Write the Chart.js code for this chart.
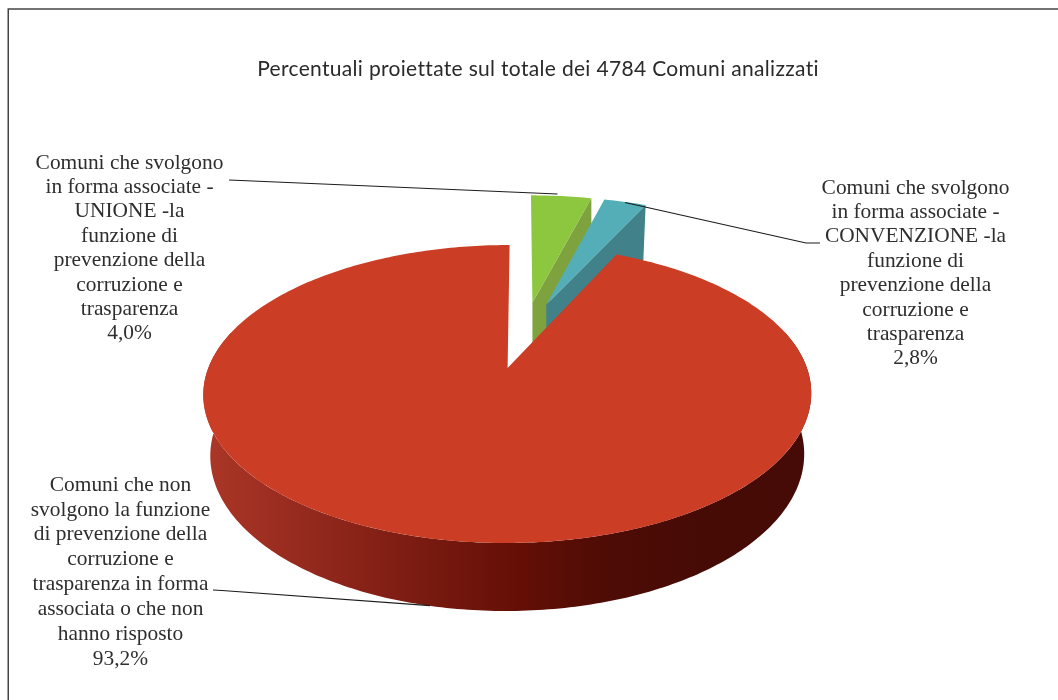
<!DOCTYPE html>
<html><head><meta charset="utf-8">
<style>html,body{margin:0;padding:0;background:#fff}canvas{display:block}</style>
<script src="https://cdn.jsdelivr.net/npm/chart.js@4"></script>
</head><body><canvas id="c" width="1058" height="700"></canvas>
<script>
const chartTitle = 'Percentuali proiettate sul totale dei 4784 Comuni analizzati';
const categories = [
  'Comuni che svolgono in forma associate - UNIONE - la funzione di prevenzione della corruzione e trasparenza',
  'Comuni che svolgono in forma associate - CONVENZIONE - la funzione di prevenzione della corruzione e trasparenza',
  'Comuni che non svolgono la funzione di prevenzione della corruzione e trasparenza in forma associata o che non hanno risposto'
];
const values = [4.0, 2.8, 93.2];
const topColors = ['#8dc63f', '#54aeb8', '#cb3d25'];
const wallColors = ['#7ea33e', '#40818a'];
const labelGreen = ['Comuni che svolgono','in forma associate -','UNIONE -la','funzione di','prevenzione della','corruzione e','trasparenza','4,0%'];
const labelTeal = ['Comuni che svolgono','in forma associate -','CONVENZIONE -la','funzione di','prevenzione della','corruzione e','trasparenza','2,8%'];
const labelRed = ['Comuni che non','svolgono la funzione','di prevenzione della','corruzione e','trasparenza in forma','associata o che non','hanno risposto','93,2%'];

// perspective of the pie plane
const K = 0.1745, AX = 299.3, AY = 80.25, CX = 507.6, CY = 368;
const project = (u, v) => { const d = 1 + K * v; return [CX + AX * u / d, (CY - AY * v) / d]; };
// lower rim of the pie is the upper rim scaled and moved
const lower = p => [507 + (p[0] - 507) * 297 / 304, 455 + (p[1] - 394) * 156 / 149];
// plane shift u, plane shift v, radius factor, skew
const explode = [[0.09, 0.49, 1.02, 2], [0.14, 0.476, 1.02, 3], [0, 0, 1, 2]];

const pieArc = Chart.ArcElement.prototype;
pieArc.draw = function (ctx) {
  const i = this.sliceIndex;
  const [su, sv, sr, sk] = explode[i];
  const at = (a, r) => {
    const dv = -sr * r * Math.sin(a);
    const p = project(su + sr * r * Math.cos(a), sv + dv);
    return [p[0] + sk * dv, p[1]];
  };
  const apex = at(0, 0), rimEnd = at(this.endAngle, 1);
  ctx.save();
  if (i === 0) {
    ctx.fillStyle = wallColors[0];
    ctx.beginPath();
    ctx.moveTo(rimEnd[0], rimEnd[1]);
    ctx.lineTo(apex[0], apex[1]);
    ctx.lineTo(apex[0], apex[1] + 44);
    ctx.lineTo(apex[0] + 15, apex[1] + 29);
    ctx.lineTo(apex[0] + 15, apex[1] + 3);
    ctx.lineTo(rimEnd[0], rimEnd[1] + 26);
    ctx.closePath(); ctx.fill();
  } else if (i === 1) {
    ctx.fillStyle = wallColors[1];
    ctx.beginPath();
    ctx.moveTo(rimEnd[0], rimEnd[1]);
    ctx.lineTo(apex[0], apex[1]);
    ctx.lineTo(apex[0], apex[1] + 40);
    ctx.lineTo(rimEnd[0] - 2.3, rimEnd[1] + 55);
    ctx.closePath(); ctx.fill();
  } else {
    const g = ctx.createLinearGradient(203, 0, 811, 0);
    [[0,'#ab3727'],[0.16,'#962a1e'],[0.37,'#781a10'],[0.52,'#640f06'],[0.66,'#4e0c05'],[0.82,'#470b06'],[1,'#460b06']]
      .forEach(s => g.addColorStop(s[0], s[1]));
    ctx.fillStyle = g;
    ctx.beginPath();
    const n = 240, a0 = -15 * Math.PI / 180, a1 = 195 * Math.PI / 180;
    for (let k = 0; k < n; k++) {
      const b0 = a0 + (a1 - a0) * k / n, b1 = a0 + (a1 - a0) * (k + 1) / n;
      const p0 = at(b0, 1), p1 = at(b1, 1), q0 = lower(p0), q1 = lower(p1);
      ctx.moveTo(p0[0], p0[1]); ctx.lineTo(p1[0], p1[1]);
      ctx.lineTo(q1[0], q1[1]); ctx.lineTo(q0[0], q0[1]); ctx.closePath();
    }
    ctx.fill();
  }
  ctx.fillStyle = this.options.backgroundColor;
  ctx.beginPath();
  ctx.moveTo(apex[0], apex[1]);
  const steps = Math.max(8, Math.ceil((this.endAngle - this.startAngle) * 60));
  for (let k = 0; k <= steps; k++) {
    const p = at(this.startAngle + (this.endAngle - this.startAngle) * k / steps, 1);
    ctx.lineTo(p[0], p[1]);
  }
  ctx.closePath(); ctx.fill();
  ctx.restore();
};

const frame = {
  id: 'frame',
  beforeDraw(chart) {
    const c = chart.ctx;
    c.save();
    c.fillStyle = '#fff'; c.fillRect(0, 0, chart.width, chart.height);
    c.strokeStyle = '#444'; c.lineWidth = 1.5;
    c.beginPath(); c.moveTo(8.25, 700); c.lineTo(8.25, 9); c.lineTo(1058, 9); c.stroke();
    c.restore();
    c.letterSpacing = '0.32px';
  },
  beforeDatasetsDraw(chart) {
    chart.ctx.letterSpacing = '0px';
    chart.getDatasetMeta(0).data.forEach((el, i) => { el.sliceIndex = i; });
  }
};
const callouts = {
  id: 'callouts',
  afterDatasetsDraw(chart) {
    const c = chart.ctx;
    c.save();
    c.strokeStyle = '#1c1c1c'; c.lineWidth = 1.2;
    [[[229,180],[557.5,194]], [[625,202.5],[806,243],[820,243]], [[213,590],[222,590.5],[430,605.7]]].forEach(l => {
      c.beginPath();
      l.forEach((p, i) => i ? c.lineTo(p[0], p[1]) : c.moveTo(p[0], p[1]));
      c.stroke();
    });
    c.fillStyle = '#2e2e2e';
    c.font = '21.4px "Liberation Serif"';
    c.textAlign = 'center'; c.textBaseline = 'middle';
    const put = (lines, x, y, dy) => lines.forEach((t, i) => c.fillText(t, x, y + i * dy));
    put(labelGreen, 129.5, 163, 24.4);
    put(labelTeal, 915.5, 188, 24.4);
    put(labelRed, 120.5, 485, 24.9);
    c.restore();
  }
};

new Chart(document.getElementById('c'), {
  type: 'pie',
  data: { labels: categories, datasets: [{ data: values, backgroundColor: topColors, borderWidth: 0, radius: 300 }] },
  options: {
    responsive: false, animation: false, events: [],
    layout: { padding: { left: 18 } },
    plugins: {
      legend: { display: false }, tooltip: { enabled: false },
      title: { display: true, text: chartTitle, fullSize: false, color: '#2a2a2a',
        font: { family: 'Lato', size: 21, weight: 'normal' }, padding: { top: 57, bottom: 10 } }
    }
  },
  plugins: [frame, callouts]
});
</script>
</body></html>
